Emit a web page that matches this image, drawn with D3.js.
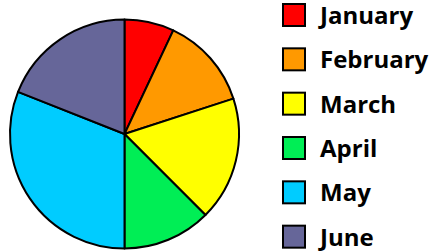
<!DOCTYPE html>
<html>
<head>
<meta charset="utf-8">
<script src="https://cdn.jsdelivr.net/npm/d3@7"></script>
<style>
  body { margin: 0; background: #fff; }
  svg { display: block; }
</style>
</head>
<body>
<div id="chart"></div>
<script>
'use strict';

// months and their shares of the pie
const months = ["January", "February", "March", "April", "May", "June"];
const values = [7, 13, 17.5, 12.5, 31, 19];
const colours = ["#ff0000", "#ff9900", "#ffff00", "#00ee55", "#00ccff", "#666699"];

const width = 435, height = 252;

const svg = d3.select("#chart").append("svg")
    .attr("width", width)
    .attr("height", height);

const data = months.map((m, i) => ({ month: m, value: values[i] }));

const colour = d3.scaleOrdinal().domain(months).range(colours);

// pie, starting at twelve o'clock and going clockwise, no sorting
const pie = d3.pie().value(d => d.value).sort(null);
const arc = d3.arc().innerRadius(0).outerRadius(114.5);

const pieGrp = svg.append("g")
    .attr("transform", "translate(124.5,134)");

pieGrp.selectAll("path")
    .data(pie(data))
    .enter()
    .append("path")
    .attr("d", arc)
    .attr("fill", d => colour(d.data.month))
    .attr("stroke", "#000")
    .attr("stroke-width", 2)
    .attr("stroke-linejoin", "round");

// legend on the right
const y = d3.scaleBand().domain(months).range([4, 270]).paddingInner(0);

const legend = svg.append("g").attr("class", "legend");

const item = legend.selectAll("g")
    .data(months)
    .enter()
    .append("g")
    .attr("transform", d => "translate(283," + y(d) + ")");

item.append("rect")
    .attr("width", 22)
    .attr("height", 22)
    .attr("fill", d => colour(d))
    .attr("stroke", "#000")
    .attr("stroke-width", 2);

item.append("text")
    .attr("x", 37)
    .attr("y", 20)
    .attr("font-family", "'Comic Sans MS', 'Open Sans', sans-serif")
    .attr("font-weight", "bold")
    .attr("font-size", 24)
    .attr("fill", "#000")
    .text(d => d);
</script>
</body>
</html>
